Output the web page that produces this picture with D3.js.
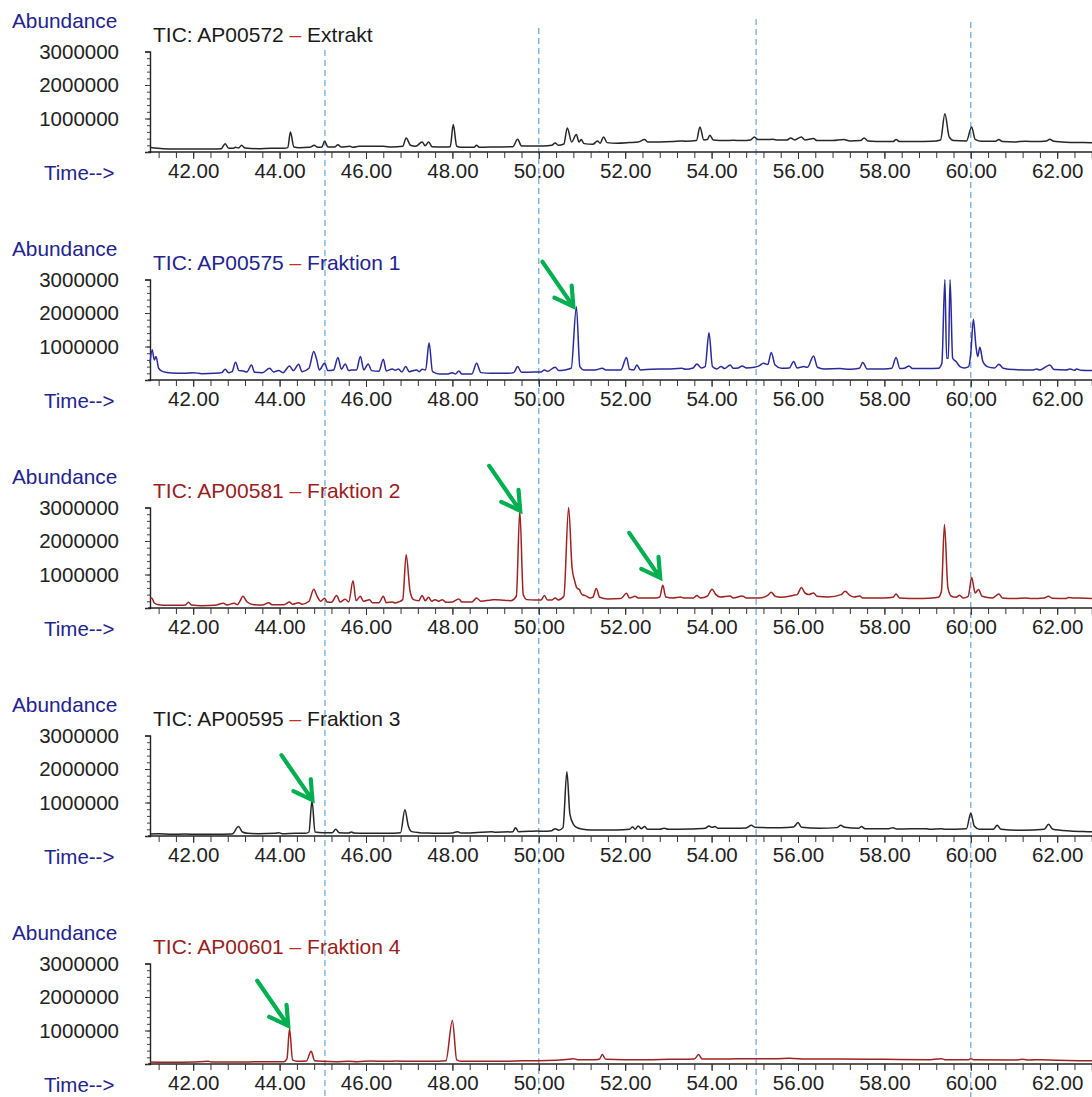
<!DOCTYPE html>
<html><head><meta charset="utf-8">
<script src="https://cdn.jsdelivr.net/npm/d3@7"></script>
<style>
body{margin:0;background:#fff}
svg{display:block}
text{font-family:"Liberation Sans",Arial,sans-serif}
</style>
</head><body>
<svg id="chart" width="1092" height="1097"></svg>
<script>
// ---------- DATA (abundance in millions, time in minutes) ----------
const UNIT = 1e6;
const extraktData = [[41.0,0.14],[41.1,0.12],[41.3,0.10],[41.6,0.09],[42.0,0.09],[42.4,0.09],[42.65,0.10],[42.74,0.25],[42.82,0.11],[42.92,0.11],[42.98,0.14],[43.05,0.12],[43.12,0.20],[43.2,0.12],[43.5,0.10],[43.8,0.11],[44.1,0.11],[44.19,0.13],[44.25,0.60],[44.33,0.15],[44.45,0.13],[44.7,0.14],[44.8,0.20],[44.88,0.14],[44.98,0.15],[45.04,0.32],[45.12,0.15],[45.28,0.15],[45.35,0.22],[45.42,0.15],[45.63,0.17],[45.7,0.14],[45.84,0.17],[46.12,0.17],[46.4,0.17],[46.6,0.15],[46.85,0.17],[46.93,0.42],[47.03,0.2],[47.15,0.17],[47.3,0.30],[47.37,0.19],[47.45,0.30],[47.53,0.16],[47.8,0.15],[47.95,0.16],[48.02,0.82],[48.1,0.17],[48.2,0.14],[48.5,0.14],[48.56,0.20],[48.62,0.14],[49.0,0.15],[49.4,0.16],[49.51,0.38],[49.6,0.18],[49.8,0.18],[50.1,0.18],[50.3,0.2],[50.38,0.27],[50.45,0.2],[50.58,0.24],[50.66,0.72],[50.76,0.3],[50.87,0.52],[50.93,0.3],[50.98,0.37],[51.05,0.25],[51.25,0.23],[51.36,0.33],[51.42,0.26],[51.5,0.45],[51.58,0.28],[51.8,0.26],[52.1,0.28],[52.3,0.3],[52.45,0.37],[52.52,0.3],[52.8,0.3],[53.1,0.31],[53.28,0.33],[53.4,0.32],[53.65,0.34],[53.73,0.75],[53.82,0.36],[53.9,0.37],[53.96,0.5],[54.04,0.36],[54.3,0.34],[54.5,0.35],[54.7,0.34],[54.9,0.36],[54.99,0.45],[55.07,0.37],[55.3,0.37],[55.4,0.38],[55.5,0.36],[55.75,0.36],[55.83,0.42],[55.92,0.36],[56.08,0.45],[56.16,0.36],[56.36,0.4],[56.44,0.34],[56.8,0.34],[57.06,0.37],[57.2,0.33],[57.45,0.34],[57.53,0.42],[57.62,0.33],[58.0,0.31],[58.2,0.31],[58.27,0.37],[58.35,0.31],[58.7,0.31],[59.1,0.32],[59.3,0.36],[59.4,1.14],[59.5,0.45],[59.6,0.34],[59.9,0.33],[60.02,0.75],[60.1,0.38],[60.25,0.32],[60.57,0.32],[60.65,0.37],[60.73,0.31],[61.0,0.3],[61.27,0.32],[61.5,0.31],[61.75,0.33],[61.83,0.38],[61.92,0.32],[62.2,0.29],[62.6,0.28],[63.0,0.27]];

const fraktion1Data = [[41.0,0.5],[41.05,0.9],[41.1,0.6],[41.14,0.7],[41.2,0.35],[41.3,0.25],[41.5,0.21],[41.8,0.2],[42.0,0.22],[42.2,0.19],[42.5,0.2],[42.66,0.22],[42.74,0.32],[42.82,0.22],[42.9,0.25],[42.98,0.53],[43.06,0.28],[43.16,0.27],[43.24,0.24],[43.35,0.45],[43.42,0.23],[43.6,0.22],[43.77,0.35],[43.86,0.24],[43.98,0.28],[44.08,0.22],[44.23,0.42],[44.32,0.28],[44.44,0.47],[44.52,0.25],[44.68,0.35],[44.79,0.85],[44.86,0.6],[44.92,0.3],[45.04,0.5],[45.12,0.28],[45.25,0.3],[45.35,0.67],[45.43,0.32],[45.52,0.48],[45.6,0.28],[45.67,0.3],[45.78,0.3],[45.87,0.7],[45.95,0.3],[46.05,0.48],[46.13,0.28],[46.3,0.26],[46.4,0.62],[46.47,0.27],[46.61,0.33],[46.68,0.29],[46.75,0.33],[46.83,0.24],[46.92,0.4],[47.0,0.25],[47.17,0.3],[47.23,0.25],[47.3,0.32],[47.38,0.3],[47.46,1.11],[47.54,0.25],[47.7,0.18],[47.9,0.18],[48.0,0.22],[48.07,0.18],[48.15,0.27],[48.22,0.18],[48.45,0.18],[48.56,0.5],[48.66,0.22],[48.9,0.2],[49.3,0.2],[49.42,0.22],[49.51,0.4],[49.6,0.23],[49.9,0.24],[50.05,0.24],[50.13,0.3],[50.2,0.26],[50.38,0.38],[50.46,0.28],[50.6,0.3],[50.75,0.35],[50.87,2.19],[50.95,0.4],[51.05,0.3],[51.3,0.3],[51.47,0.35],[51.55,0.3],[51.9,0.3],[52.03,0.67],[52.1,0.32],[52.2,0.3],[52.27,0.45],[52.35,0.3],[52.6,0.32],[53.0,0.33],[53.31,0.35],[53.4,0.32],[53.57,0.36],[53.66,0.48],[53.76,0.36],[53.85,0.4],[53.94,1.41],[54.02,0.4],[54.12,0.33],[54.22,0.4],[54.3,0.34],[54.43,0.45],[54.5,0.35],[54.62,0.36],[54.71,0.42],[54.8,0.36],[54.99,0.38],[55.1,0.42],[55.2,0.5],[55.3,0.46],[55.38,0.82],[55.47,0.45],[55.62,0.35],[55.8,0.36],[55.9,0.55],[55.98,0.36],[56.06,0.38],[56.13,0.4],[56.22,0.38],[56.36,0.72],[56.45,0.38],[56.6,0.33],[56.97,0.34],[57.2,0.32],[57.42,0.35],[57.5,0.52],[57.6,0.33],[58.0,0.33],[58.17,0.35],[58.27,0.67],[58.36,0.34],[58.48,0.36],[58.57,0.42],[58.65,0.34],[59.0,0.34],[59.25,0.35],[59.33,0.5],[59.4,3.0],[59.44,0.65],[59.48,0.65],[59.52,3.0],[59.58,0.65],[59.66,0.55],[59.75,0.4],[59.85,0.36],[59.95,0.4],[60.0,0.8],[60.06,1.81],[60.12,1.0],[60.16,0.7],[60.21,0.98],[60.28,0.55],[60.38,0.4],[60.55,0.36],[60.65,0.47],[60.75,0.35],[61.0,0.31],[61.45,0.3],[61.52,0.33],[61.6,0.3],[61.83,0.45],[61.93,0.31],[62.2,0.3],[62.3,0.33],[62.4,0.29],[62.45,0.33],[62.55,0.29],[63.0,0.28]];

const fraktion2Data = [[41.0,0.28],[41.04,0.3],[41.1,0.15],[41.2,0.1],[41.4,0.08],[41.7,0.08],[41.82,0.09],[41.89,0.17],[41.96,0.09],[42.2,0.07],[42.5,0.08],[42.7,0.14],[42.78,0.09],[42.95,0.14],[43.02,0.1],[43.08,0.2],[43.15,0.35],[43.25,0.18],[43.4,0.1],[43.6,0.09],[43.75,0.16],[43.82,0.1],[44.1,0.1],[44.23,0.18],[44.3,0.11],[44.44,0.16],[44.52,0.11],[44.68,0.2],[44.79,0.56],[44.87,0.35],[44.95,0.2],[45.04,0.29],[45.1,0.18],[45.2,0.17],[45.32,0.37],[45.4,0.18],[45.52,0.26],[45.6,0.18],[45.7,0.81],[45.77,0.22],[45.87,0.35],[45.94,0.2],[46.08,0.25],[46.15,0.16],[46.3,0.16],[46.4,0.35],[46.47,0.16],[46.61,0.18],[46.68,0.15],[46.75,0.18],[46.85,0.25],[46.93,1.59],[47.02,0.5],[47.1,0.25],[47.22,0.22],[47.3,0.37],[47.37,0.22],[47.45,0.32],[47.52,0.2],[47.6,0.25],[47.68,0.2],[47.77,0.25],[47.85,0.17],[48.0,0.18],[48.15,0.27],[48.22,0.18],[48.45,0.18],[48.56,0.3],[48.66,0.2],[48.9,0.24],[49.0,0.25],[49.2,0.23],[49.35,0.22],[49.48,0.35],[49.56,2.9],[49.64,0.4],[49.72,0.25],[49.9,0.24],[50.05,0.24],[50.13,0.37],[50.2,0.24],[50.3,0.24],[50.38,0.3],[50.45,0.24],[50.58,0.35],[50.69,3.0],[50.77,1.2],[50.83,0.81],[50.88,0.6],[50.94,0.55],[51.0,0.4],[51.08,0.37],[51.18,0.3],[51.25,0.32],[51.33,0.58],[51.41,0.32],[51.6,0.27],[51.9,0.28],[52.03,0.44],[52.1,0.3],[52.23,0.35],[52.3,0.3],[52.5,0.3],[52.7,0.3],[52.8,0.33],[52.87,0.68],[52.94,0.33],[53.1,0.3],[53.28,0.33],[53.35,0.3],[53.58,0.3],[53.66,0.37],[53.74,0.3],[53.9,0.35],[54.01,0.56],[54.1,0.4],[54.2,0.33],[54.43,0.36],[54.5,0.3],[54.71,0.36],[54.8,0.3],[55.1,0.3],[55.3,0.38],[55.38,0.47],[55.47,0.35],[55.6,0.32],[55.8,0.35],[55.9,0.38],[55.98,0.4],[56.08,0.61],[56.16,0.45],[56.25,0.4],[56.36,0.45],[56.44,0.35],[56.7,0.33],[57.0,0.4],[57.09,0.5],[57.2,0.38],[57.3,0.33],[57.43,0.36],[57.5,0.3],[58.0,0.3],[58.2,0.32],[58.27,0.42],[58.35,0.3],[58.8,0.28],[59.0,0.29],[59.25,0.32],[59.32,0.5],[59.39,2.49],[59.47,0.6],[59.55,0.35],[59.66,0.32],[59.74,0.38],[59.82,0.3],[59.94,0.35],[60.02,0.91],[60.1,0.45],[60.18,0.55],[60.26,0.35],[60.5,0.3],[60.65,0.42],[60.73,0.3],[61.0,0.28],[61.27,0.3],[61.4,0.28],[61.7,0.3],[61.8,0.35],[61.88,0.29],[62.2,0.28],[62.26,0.31],[62.4,0.3],[62.5,0.3],[63.0,0.27]];

const fraktion3Data = [[41.0,0.06],[41.2,0.07],[41.5,0.05],[41.8,0.06],[42.1,0.05],[42.5,0.05],[42.9,0.06],[43.05,0.28],[43.14,0.12],[43.26,0.08],[43.5,0.07],[43.9,0.08],[43.98,0.1],[44.06,0.07],[44.37,0.08],[44.6,0.08],[44.68,0.12],[44.75,1.06],[44.82,0.12],[45.0,0.1],[45.22,0.1],[45.3,0.2],[45.38,0.1],[45.6,0.09],[45.66,0.12],[45.72,0.09],[46.0,0.08],[46.5,0.08],[46.8,0.1],[46.9,0.78],[46.98,0.3],[47.06,0.13],[47.24,0.1],[47.4,0.09],[47.6,0.08],[47.8,0.08],[48.0,0.09],[48.12,0.13],[48.2,0.09],[48.5,0.1],[48.91,0.13],[49.0,0.11],[49.4,0.13],[49.46,0.25],[49.53,0.13],[49.8,0.14],[49.96,0.15],[50.1,0.14],[50.3,0.16],[50.38,0.22],[50.46,0.17],[50.56,0.25],[50.65,1.92],[50.72,0.65],[50.8,0.35],[50.9,0.24],[51.1,0.19],[51.3,0.18],[51.5,0.18],[51.8,0.18],[52.1,0.2],[52.17,0.27],[52.23,0.2],[52.3,0.3],[52.37,0.22],[52.45,0.28],[52.52,0.2],[52.8,0.2],[52.9,0.23],[53.0,0.2],[53.5,0.21],[53.85,0.23],[53.94,0.3],[54.0,0.26],[54.08,0.28],[54.15,0.23],[54.5,0.23],[54.8,0.24],[54.92,0.32],[55.0,0.26],[55.3,0.25],[55.6,0.25],[55.9,0.27],[56.0,0.4],[56.08,0.26],[56.5,0.23],[56.9,0.25],[56.99,0.32],[57.08,0.26],[57.4,0.23],[57.47,0.28],[57.55,0.22],[58.1,0.22],[58.2,0.25],[58.28,0.21],[58.97,0.22],[59.05,0.2],[59.32,0.22],[59.4,0.2],[59.9,0.22],[60.0,0.68],[60.08,0.3],[60.2,0.2],[60.52,0.2],[60.61,0.32],[60.7,0.2],[61.2,0.17],[61.7,0.2],[61.8,0.35],[61.9,0.2],[62.3,0.15],[62.7,0.13],[63.0,0.12]];

const fraktion4Data = [[41.0,0.06],[41.5,0.05],[42.0,0.06],[42.35,0.08],[42.42,0.06],[42.8,0.06],[43.2,0.06],[43.6,0.07],[44.1,0.07],[44.17,0.15],[44.23,1.05],[44.3,0.12],[44.4,0.08],[44.62,0.09],[44.73,0.38],[44.81,0.1],[45.0,0.08],[45.3,0.07],[45.6,0.08],[45.8,0.07],[46.1,0.09],[46.5,0.08],[46.7,0.09],[47.0,0.08],[47.5,0.08],[47.85,0.1],[48.0,1.3],[48.1,0.12],[48.2,0.08],[48.6,0.08],[49.0,0.08],[49.5,0.09],[49.8,0.1],[50.0,0.1],[50.4,0.11],[50.7,0.14],[50.8,0.16],[50.9,0.13],[51.3,0.13],[51.4,0.14],[51.47,0.28],[51.55,0.14],[52.0,0.13],[52.5,0.13],[53.0,0.14],[53.6,0.15],[53.7,0.28],[53.78,0.15],[54.2,0.15],[55.0,0.16],[55.5,0.16],[55.8,0.17],[56.2,0.15],[57.0,0.15],[58.0,0.14],[59.0,0.13],[59.32,0.16],[59.4,0.13],[59.95,0.13],[60.0,0.16],[60.06,0.13],[61.0,0.12],[61.2,0.14],[61.35,0.12],[61.62,0.13],[62.0,0.11],[62.5,0.1],[63.0,0.1]];

const sampleIds   = ["AP00572","AP00575","AP00581","AP00595","AP00601"];
const sampleNames = ["Extrakt","Fraktion 1","Fraktion 2","Fraktion 3","Fraktion 4"];
const seriesData  = [extraktData, fraktion1Data, fraktion2Data, fraktion3Data, fraktion4Data];
const yTickValues = [1000000, 2000000, 3000000];
const yTickLabels = ["1000000", "2000000", "3000000"];
const xTickValues = [42, 44, 46, 48, 50, 52, 54, 56, 58, 60, 62];
const xTickLabels = ["42.00","44.00","46.00","48.00","50.00","52.00","54.00","56.00","58.00","60.00","62.00"];
const markerTimes = [45.05, 50.0, 55.03, 60.0];
// arrow targets per panel: [time, abundance in millions]
const arrowTargets = [[], [[50.80, 2.19]], [[49.57, 2.90], [52.81, 0.90]], [[44.76, 1.07]], [[44.20, 1.14]]];

// ---------- STYLE ----------
const traceColors = ["#262626", "#2a2a9c", "#9e2222", "#262626", "#9e2222"];
const titleColors = ["#1a1a1a", "#23238f", "#9a2020", "#1a1a1a", "#9a2020"];
const navy = "#23238f";
const panelStep = 228;
const markerTops = [50, 28, 19, 22];

const svg = d3.select("#chart");
const x = d3.scaleLinear().domain([41, 63]).range([150, 150 + 22 * 43.2]);

// dashed marker lines
svg.append("g").selectAll("line").data(markerTimes).join("line")
  .attr("x1", d => x(d)).attr("x2", d => x(d))
  .attr("y1", (d, i) => markerTops[i]).attr("y2", 1097)
  .attr("stroke", "#5b9bd5").attr("stroke-width", 1.1)
  .attr("stroke-dasharray", "6,4");

seriesData.forEach((data, p) => {
  const off = p * panelStep;
  const y = d3.scaleLinear().domain([0, 3000000]).range([152 + off, 51.5 + off]);
  const g = svg.append("g");

  g.append("text").attr("x", 12).attr("y", 27.5 + off).attr("font-size", 20.8)
    .attr("fill", navy).text("Abundance");

  const t = g.append("text").attr("x", 153).attr("y", 42 + off).attr("font-size", 21)
    .attr("fill", titleColors[p]);
  t.append("tspan").text("TIC: " + sampleIds[p] + " ");
  t.append("tspan").attr("fill", "#c0302a").text("\u2013");
  t.append("tspan").text(" " + sampleNames[p]);

  const yAxis = d3.axisLeft(y).tickValues(yTickValues).tickSize(5)
    .tickFormat((d, i) => yTickLabels[i]).tickPadding(26);
  const ya = g.append("g").attr("transform", "translate(150,0)").call(yAxis);
  ya.select(".domain").attr("stroke", "#222").attr("stroke-width", 1.4);
  ya.selectAll(".tick line").attr("stroke", "#333");
  ya.selectAll(".tick text").attr("font-size", 20.5).attr("fill", "#222")
    .attr("font-family", "'Liberation Sans', Arial, sans-serif");
  const yMinor = d3.axisLeft(y).tickValues(d3.range(0, 3000001, 200000)).tickSize(3).tickFormat("");
  const ym = g.append("g").attr("transform", "translate(150,0)").call(yMinor);
  ym.select(".domain").remove();
  ym.selectAll(".tick line").attr("stroke", "#444");

  const xMinor = d3.axisBottom(x).tickValues(d3.range(41.2, 63, 0.4)).tickSize(6).tickFormat("");
  const xm = g.append("g").attr("transform", `translate(0,${152 + off})`).call(xMinor);
  xm.select(".domain").attr("stroke", "#222").attr("stroke-width", 1.5).attr("d", "M148,0H1100");
  xm.selectAll(".tick line").attr("stroke", "#333");
  const xAxis = d3.axisBottom(x).tickValues(xTickValues).tickSize(7)
    .tickFormat((d, i) => xTickLabels[i]).tickPadding(6);
  const xa = g.append("g").attr("transform", `translate(0,${152 + off})`).call(xAxis);
  xa.select(".domain").remove();
  xa.selectAll(".tick line").attr("stroke", "#333");
  xa.selectAll(".tick text").attr("font-size", 20.5).attr("fill", "#222")
    .attr("font-family", "'Liberation Sans', Arial, sans-serif").attr("dy", "0.62em");

  g.append("text").attr("x", 44).attr("y", 180 + off).attr("font-size", 20.5)
    .attr("fill", navy).text("Time-->");

  const line = d3.line().curve(d3.curveMonotoneX).x(d => x(d[0])).y(d => y(d[1] * UNIT));
  g.append("path").datum(data).attr("d", line)
    .attr("fill", "none").attr("stroke", traceColors[p]).attr("stroke-width", 1.5)
    .attr("stroke-linejoin", "round");

  arrowTargets[p].forEach(([tt, vv]) => {
    const tx = x(tt), ty = y(vv * UNIT);
    const dx = -31, dy = -45;
    const L = Math.hypot(dx, dy), ux = dx / L, uy = dy / L;
    const arm = 21, ang = Math.PI / 6;
    const rot = a => [ux * Math.cos(a) - uy * Math.sin(a), ux * Math.sin(a) + uy * Math.cos(a)];
    const a1 = rot(ang), a2 = rot(-ang);
    const pth = d3.path();
    pth.moveTo(tx + dx, ty + dy); pth.lineTo(tx, ty);
    pth.moveTo(tx + a1[0] * arm, ty + a1[1] * arm); pth.lineTo(tx, ty);
    pth.lineTo(tx + a2[0] * arm, ty + a2[1] * arm);
    g.append("path").attr("d", pth.toString()).attr("fill", "none")
      .attr("stroke", "#00b050").attr("stroke-width", 4.2)
      .attr("stroke-linecap", "round").attr("stroke-linejoin", "miter");
  });
});
</script>
</body></html>
